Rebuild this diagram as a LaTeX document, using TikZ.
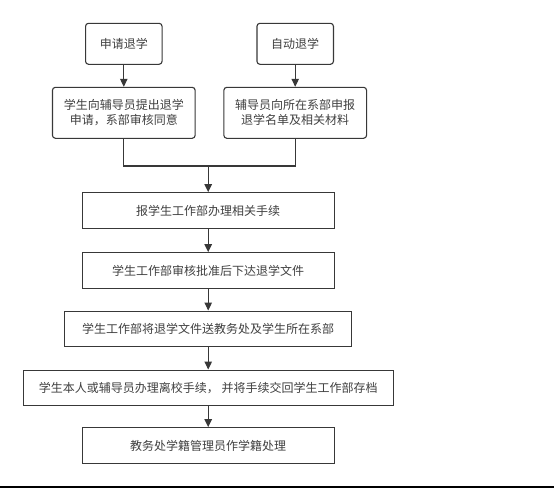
\documentclass[tikz,border=0pt]{standalone}
\usepackage{fontspec}
\setmainfont{Noto Sans CJK SC}
\usetikzlibrary{arrows.meta}
\definecolor{linec}{HTML}{383838}
\definecolor{textc}{HTML}{404040}
\tikzset{
  box/.style={draw=linec, line width=1.1pt, rectangle, inner sep=0pt, align=center,
    text=textc, font=\fontsize{12pt}{15pt}\selectfont},
  rbox/.style={box, rounded corners=3pt},
  conn/.style={draw=linec, line width=1.1pt},
  arr/.style={conn, -{Triangle[length=8pt,width=7.5pt]}}
}
\begin{document}
\begin{tikzpicture}[x=1pt,y=-1pt]
\useasboundingbox (0,0) rectangle (554,488);
\fill[white] (0,0) rectangle (554,488);
\node[rbox, minimum width=76.5pt, minimum height=41pt] (a1) at (123.8,43.8) {申请退学};
\node[rbox, minimum width=76.5pt, minimum height=41pt] (a2) at (295.2,43.8) {自动退学};
\node[rbox, minimum width=142.7pt, minimum height=51pt] (b1) at (123.8,112.8) {学生向辅导员提出退学\\申请，系部审核同意};
\node[rbox, minimum width=142.7pt, minimum height=51pt] (b2) at (295.2,112.8) {辅导员向所在系部申报\\退学名单及相关材料};
\node[box, minimum width=251.7pt, minimum height=36pt] (c) at (208.2,210.7) {报学生工作部办理相关手续};
\node[box, minimum width=251.7pt, minimum height=35.6pt] (d) at (208.2,270.5) {学生工作部审核批准后下达退学文件};
\node[box, minimum width=287pt, minimum height=35.7pt] (e) at (208.2,328.9) {学生工作部将退学文件送教务处及学生所在系部};
\node[box, minimum width=369.7pt, minimum height=35.7pt] (f) at (208.2,387.9) {学生本人或辅导员办理离校手续， 并将手续交回学生工作部存档};
\node[box, minimum width=251.7pt, minimum height=35.6pt] (g) at (208.2,445.5) {教务处学籍管理员作学籍处理};
\coordinate (j) at (208.2,166);
\draw[arr] (a1) -- (b1);
\draw[arr] (a2) -- (b2);
\draw[conn] (b1.south) -- (b1.south |- j) -- (b2.south |- j) -- (b2.south);
\draw[arr] (j) -- (c.north);
\draw[arr] (c) -- (d);
\draw[arr] (d) -- (e);
\draw[arr] (e) -- (f);
\draw[arr] (f) -- (g);
\fill[black] (0,485.6) rectangle (554,488);
\end{tikzpicture}
\end{document}
